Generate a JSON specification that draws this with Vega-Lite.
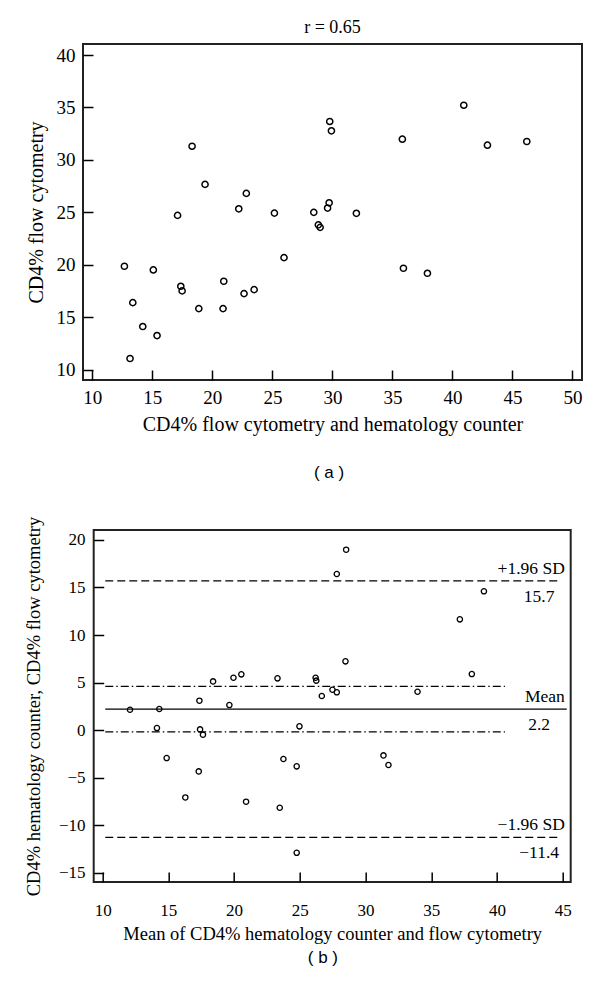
{
  "$schema": "https://vega.github.io/schema/vega-lite/v6.json",
  "background": "white",
  "padding": {"top": 18, "left": 23, "right": 10, "bottom": 5},
  "datasets": {
    "scatter": [
      {"counter": 18.31, "flow": 31.3}, {"counter": 19.39, "flow": 27.66}, {"counter": 22.83, "flow": 26.8},
      {"counter": 17.1, "flow": 24.7}, {"counter": 22.2, "flow": 25.33}, {"counter": 25.17, "flow": 24.92},
      {"counter": 28.45, "flow": 24.99}, {"counter": 28.83, "flow": 23.8}, {"counter": 28.98, "flow": 23.56},
      {"counter": 29.73, "flow": 25.9}, {"counter": 29.6, "flow": 25.4}, {"counter": 29.78, "flow": 33.66},
      {"counter": 29.92, "flow": 32.77}, {"counter": 35.83, "flow": 31.97}, {"counter": 40.95, "flow": 35.21},
      {"counter": 42.92, "flow": 31.4}, {"counter": 46.2, "flow": 31.75}, {"counter": 32.0, "flow": 24.9},
      {"counter": 35.92, "flow": 19.66}, {"counter": 37.92, "flow": 19.18}, {"counter": 25.97, "flow": 20.67},
      {"counter": 12.67, "flow": 19.85}, {"counter": 15.08, "flow": 19.5}, {"counter": 17.37, "flow": 17.94},
      {"counter": 17.48, "flow": 17.5}, {"counter": 20.95, "flow": 18.42}, {"counter": 22.64, "flow": 17.24},
      {"counter": 23.48, "flow": 17.62}, {"counter": 13.37, "flow": 16.38}, {"counter": 18.87, "flow": 15.81},
      {"counter": 20.89, "flow": 15.81}, {"counter": 14.2, "flow": 14.1}, {"counter": 15.39, "flow": 13.24},
      {"counter": 13.14, "flow": 11.05}
    ],
    "ba": [
      {"mean": 12.08, "diff": 2.14}, {"mean": 14.31, "diff": 2.21}, {"mean": 14.13, "diff": 0.21},
      {"mean": 14.87, "diff": -2.95}, {"mean": 16.29, "diff": -7.09}, {"mean": 17.36, "diff": 3.09},
      {"mean": 17.41, "diff": 0.07}, {"mean": 17.63, "diff": -0.49}, {"mean": 17.31, "diff": -4.35},
      {"mean": 18.4, "diff": 5.12}, {"mean": 19.64, "diff": 2.63}, {"mean": 19.95, "diff": 5.5},
      {"mean": 20.55, "diff": 5.86}, {"mean": 20.91, "diff": -7.54}, {"mean": 23.3, "diff": 5.44},
      {"mean": 23.47, "diff": -8.18}, {"mean": 23.75, "diff": -3.05}, {"mean": 24.76, "diff": -3.82},
      {"mean": 24.76, "diff": -12.92}, {"mean": 24.97, "diff": 0.39}, {"mean": 26.2, "diff": 5.5},
      {"mean": 26.25, "diff": 5.2}, {"mean": 26.67, "diff": 3.58}, {"mean": 27.48, "diff": 4.24},
      {"mean": 27.81, "diff": 3.97}, {"mean": 27.81, "diff": 16.42}, {"mean": 28.52, "diff": 18.98},
      {"mean": 28.47, "diff": 7.23}, {"mean": 31.36, "diff": -2.67}, {"mean": 31.74, "diff": -3.68},
      {"mean": 33.95, "diff": 4.03}, {"mean": 37.17, "diff": 11.65}, {"mean": 38.08, "diff": 5.89},
      {"mean": 39.0, "diff": 14.6}
    ],
    "limits": [{"value": 15.7}, {"value": -11.3}],
    "meanline": [{"value": 2.2}],
    "ci": [{"value": 4.6}, {"value": -0.2}],
    "upperLabels": [
      {"label": "+1.96 SD", "value": 15.7},
      {"label": "Mean", "value": 2.2},
      {"label": "−1.96 SD", "value": -11.3}
    ],
    "lowerLabels": [
      {"label": "15.7", "value": 15.7},
      {"label": "2.2", "value": 2.2},
      {"label": "−11.4", "value": -11.3}
    ]
  },
  "center": true,
  "spacing": 34,
  "vconcat": [
    {
      "title": {"text": "( a )", "orient": "bottom", "font": "Liberation Sans", "fontSize": 17, "fontWeight": "normal", "color": "black", "offset": 30, "anchor": "middle", "dx": 25},
      "vconcat": [
        {
          "title": {"text": "r = 0.65", "font": "Liberation Serif", "fontSize": 18, "fontWeight": "normal", "color": "black", "offset": 7},
          "width": 499,
          "height": 336,
          "data": {"name": "scatter"},
          "mark": {"type": "point", "shape": "circle", "filled": false, "color": "black", "strokeWidth": 1.5, "size": 38, "opacity": 1},
          "encoding": {
            "x": {
              "field": "counter", "type": "quantitative",
              "scale": {"domain": [9.22, 50.8], "nice": false, "zero": false},
              "axis": {"title": "CD4% flow cytometry and hematology counter", "values": [10, 15, 20, 25, 30, 35, 40, 45, 50], "tickSize": -10, "labelPadding": 18, "labelFontSize": 19, "titleFontSize": 20, "titlePadding": 7}
            },
            "y": {
              "field": "flow", "type": "quantitative",
              "scale": {"domain": [9.0, 41.05], "nice": false, "zero": false},
              "axis": {"title": "CD4% flow cytometry", "values": [10, 15, 20, 25, 30, 35, 40], "tickSize": -10, "labelPadding": 18, "labelFontSize": 19, "titleFontSize": 20, "titlePadding": 10}
            }
          }
        }
      ]
    },
    {
      "title": {"text": "( b )", "orient": "bottom", "font": "Liberation Sans", "fontSize": 17, "fontWeight": "normal", "color": "black", "offset": 6, "anchor": "middle", "dx": 25},
      "vconcat": [
        {
          "width": 477,
          "height": 352,
          "layer": [
            {
              "data": {"name": "limits"},
              "mark": {"type": "rule", "color": "black", "strokeWidth": 1.3, "strokeDash": [8, 4]},
              "encoding": {
                "y": {"field": "value", "type": "quantitative", "scale": {"domain": [-15.99, 21.05], "nice": false, "zero": false}},
                "x": {"datum": 10.2, "type": "quantitative", "scale": {"domain": [9.32, 45.6], "nice": false, "zero": false}},
                "x2": {"datum": 44.6}
              }
            },
            {
              "data": {"name": "meanline"},
              "mark": {"type": "rule", "color": "black", "strokeWidth": 1.3},
              "encoding": {
                "y": {"field": "value", "type": "quantitative", "scale": {"domain": [-15.99, 21.05], "nice": false, "zero": false}},
                "x": {"datum": 10.2, "type": "quantitative", "scale": {"domain": [9.32, 45.6], "nice": false, "zero": false}},
                "x2": {"datum": 45.3}
              }
            },
            {
              "data": {"name": "ci"},
              "mark": {"type": "rule", "color": "black", "strokeWidth": 1.3, "strokeDash": [8, 3, 1.5, 3]},
              "encoding": {
                "y": {"field": "value", "type": "quantitative", "scale": {"domain": [-15.99, 21.05], "nice": false, "zero": false}},
                "x": {"datum": 10.2, "type": "quantitative", "scale": {"domain": [9.32, 45.6], "nice": false, "zero": false}},
                "x2": {"datum": 40.6}
              }
            },
            {
              "data": {"name": "upperLabels"},
              "mark": {"type": "text", "font": "Liberation Serif", "fontSize": 17.5, "color": "black", "align": "right", "baseline": "alphabetic", "dy": -7},
              "encoding": {
                "y": {"field": "value", "type": "quantitative", "scale": {"domain": [-15.99, 21.05], "nice": false, "zero": false}},
                "x": {"datum": 45.15, "type": "quantitative", "scale": {"domain": [9.32, 45.6], "nice": false, "zero": false}},
                "text": {"field": "label"}
              }
            },
            {
              "data": {"name": "lowerLabels"},
              "mark": {"type": "text", "font": "Liberation Serif", "fontSize": 17.5, "color": "black", "align": "center", "baseline": "alphabetic", "dy": 21},
              "encoding": {
                "y": {"field": "value", "type": "quantitative", "scale": {"domain": [-15.99, 21.05], "nice": false, "zero": false}},
                "x": {"datum": 43.2, "type": "quantitative", "scale": {"domain": [9.32, 45.6], "nice": false, "zero": false}},
                "text": {"field": "label"}
              }
            },
            {
              "data": {"name": "ba"},
              "mark": {"type": "point", "shape": "circle", "filled": false, "color": "black", "strokeWidth": 1.3, "size": 28, "opacity": 1},
              "encoding": {
                "x": {
                  "field": "mean", "type": "quantitative",
                  "scale": {"domain": [9.32, 45.6], "nice": false, "zero": false},
                  "axis": {"title": "Mean of CD4% hematology counter and flow cytometry", "values": [10, 15, 20, 25, 30, 35, 40, 45], "tickSize": -10, "labelPadding": 30, "labelFontSize": 17, "titleFontSize": 18.5, "titlePadding": 6}
                },
                "y": {
                  "field": "diff", "type": "quantitative",
                  "scale": {"domain": [-15.99, 21.05], "nice": false, "zero": false},
                  "axis": {"title": "CD4% hematology counter, CD4% flow cytometry", "values": [-15, -10, -5, 0, 5, 10, 15, 20], "tickSize": -10, "labelPadding": 18.7, "labelFontSize": 17, "titleFontSize": 18.5, "titlePadding": 15}
                }
              }
            }
          ]
        }
      ]
    }
  ],
  "config": {
    "view": {"stroke": "#222", "strokeWidth": 2},
    "axis": {
      "domain": false, "grid": false,
      "tickColor": "black", "tickWidth": 1.5,
      "labelFont": "Liberation Serif", "titleFont": "Liberation Serif",
      "labelColor": "black", "titleColor": "black", "titleFontWeight": "normal"
    }
  }
}
